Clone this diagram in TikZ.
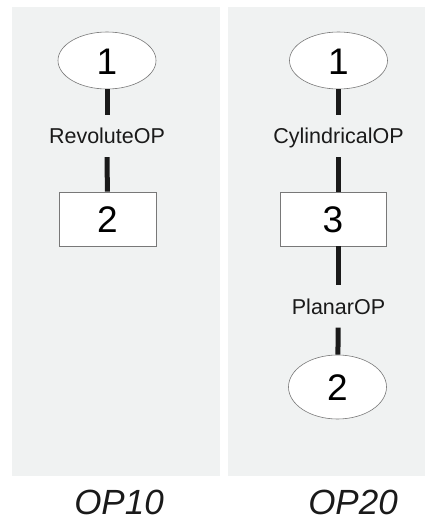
\documentclass[tikz,border=0pt]{standalone}
\usepackage{fontspec}
\setmainfont{Liberation Sans}
\usepackage{tikz}
\usetikzlibrary{shapes.geometric, positioning}
\definecolor{panelgray}{RGB}{240,242,242}
\definecolor{rimgray}{RGB}{120,120,120}
\definecolor{linkblack}{RGB}{26,26,26}

\begin{document}
\begin{tikzpicture}[
  x=1pt, y=-1pt,
  panel/.style={fill=panelgray, draw=none},
  body/.style={ellipse, draw=rimgray, line width=0.6pt, fill=white, inner sep=0pt,
    minimum width=98pt, minimum height=57pt, font=\fontsize{37}{40}\selectfont,
    text height=27pt, text depth=0pt},
  part/.style={rectangle, draw=rimgray, line width=0.6pt, fill=white, inner sep=0pt,
    minimum height=54pt, font=\fontsize{37}{40}\selectfont, text height=27pt, text depth=0pt},
  joint/.style={inner sep=0pt, minimum height=42pt, font=\fontsize{21.5}{24}\selectfont,
    text height=15pt, text depth=0pt, text=linkblack},
  link/.style={draw=linkblack, line width=5pt},
  title/.style={inner sep=0pt, font=\fontsize{35}{40}\selectfont\itshape, text=linkblack,
    text height=25pt, text depth=0pt}
]
\useasboundingbox (0,0) rectangle (425,523);

% panels
\fill[panel] (12,7) rectangle (220,476);
\fill[panel] (228,7) rectangle (425,476);

% OP10
\node[body] (a1) at (107,60.5) {1};
\node[joint] (aj) at (107,136) {RevoluteOP};
\node[part, minimum width=97pt] (a2) at (107.5,219) {2};
\draw[link] (a1) -- (aj);
\draw[link] (aj) -- (a2);

% OP20
\node[body] (b1) at (338.5,60.5) {1};
\node[joint] (bj1) at (338.5,136) {CylindricalOP};
\node[part, minimum width=106pt] (b3) at (333,219) {3};
\node[joint] (bj2) at (338.5,306.5) {PlanarOP};
\node[body, minimum height=64pt] (b2) at (337.5,387) {2};
\draw[link] (b1) -- (bj1);
\draw[link] (bj1) -- (b3.north -| bj1);
\draw[link] (b3.south -| bj2) -- (bj2);
\draw[link] (bj2) -- (b2);

% captions
\node[title] (t1) at (119,502) {OP10};
\node[title] (t2) at (353,502) {OP20};

\end{tikzpicture}
\end{document}
